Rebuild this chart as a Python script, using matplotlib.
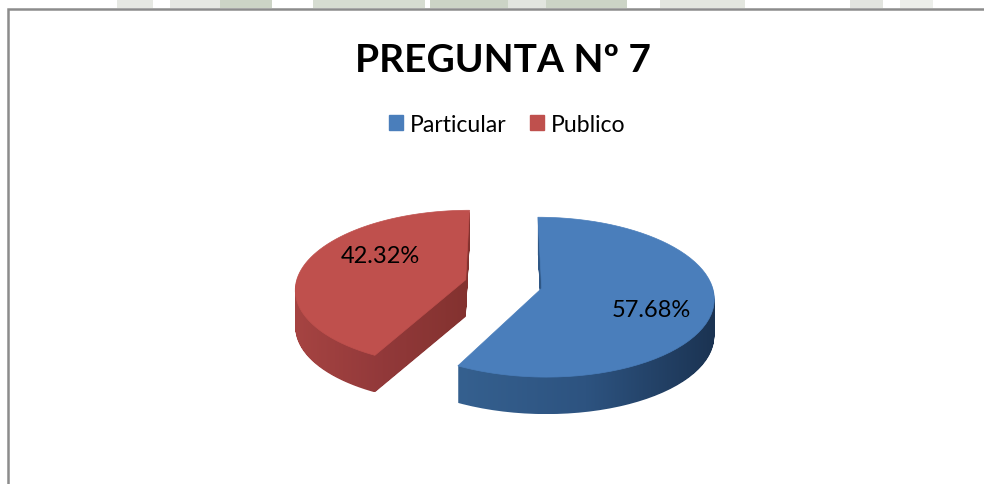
import numpy as np
import matplotlib
matplotlib.use('Agg')
import matplotlib.pyplot as plt
from matplotlib.colors import LinearSegmentedColormap
from matplotlib.patches import Patch, PathPatch, Rectangle
from matplotlib.path import Path

plt.rcParams['font.family'] = ['Lato', 'DejaVu Sans']

# Chart data
title = 'PREGUNTA Nº 7'
categories = ['Particular', 'Publico']
values = [57.68, 42.32]
value_labels = ['57.68%', '42.32%']
top_colors = ['#4a7ebb', '#bf504d']
side_colors = [['#35608f', '#2d5380', '#1b3352'], ['#a64442', '#92393a', '#83322f']]

# Watermark pieces above the chart: left edge, width, colour
mark_left = [117, 170, 220, 313, 430, 508, 546, 660, 850, 900]
mark_width = [36, 50, 52, 112, 78, 38, 81, 85, 33, 33]
mark_color = ['#e6e8e3', '#e6e8e3', '#ccd4c6', '#d6dcd1', '#ccd4c6',
              '#e2e5df', '#ccd4c6', '#e3e6df', '#e2e4df', '#eceeea']

# Layout in pixels
W, H = 984, 485
cx, cy = 503.5, 285
rx, ry = 170, 78
persp = 0.11
depth = 37
explode = 0.23
label_pos = [(651, 311), (380, 257)]

fig = plt.figure(figsize=(W / 100, H / 100), dpi=100)
ax = fig.add_axes([0, 0, 1, 1])
ax.set_xlim(0, W)
ax.set_ylim(H, 0)
ax.axis('off')

# pie on a hidden axes, only used to get the exploded wedge shapes
helper = fig.add_axes([0, 0, 0.1, 0.1])
wedges, _ = helper.pie(values, startangle=90, counterclock=False, explode=[explode, explode])
helper.set_visible(False)


def project(wedge):
    # flatten the wedge outline, then tilt it with a simple perspective
    p = wedge.get_path()
    xy = Path(p.vertices * 300, p.codes).to_polygons(closed_only=True)[0] / 300
    w = 1 + persp * xy[:, 1]
    return np.column_stack([cx + rx * xy[:, 0] / w, cy - ry * xy[:, 1] / w])


# faint watermark behind the chart, top edge only
for left, width, color in zip(mark_left, mark_width, mark_color):
    ax.add_patch(Rectangle((left, 0), width, 9, color=color, lw=0))

# chart area border, open at bottom and right
ax.plot([7.5, 7.5, W], [H, 9.5, 9.5], color='#8c8c8c', lw=1.8, solid_joinstyle='miter')

for i, wedge in enumerate(wedges):
    top = project(wedge)
    # side: stack of shifted outlines, filled with a gradient across x
    stack = [Path(top + [0, d]) for d in np.arange(1, depth + 1)]
    side = PathPatch(Path.make_compound_path(*stack), transform=ax.transData, lw=0, fc='none')
    ax.add_patch(side)
    cmap = LinearSegmentedColormap.from_list('side', side_colors[i])
    x0, x1 = top[:, 0].min(), top[:, 0].max()
    y0, y1 = top[:, 1].min(), top[:, 1].max() + depth
    im = ax.imshow(np.linspace(0, 1, 256)[None, :], cmap=cmap, extent=[x0, x1, y1, y0], aspect='auto', zorder=2)
    im.set_clip_path(side)
    ax.add_patch(PathPatch(Path(top), fc=top_colors[i], ec=top_colors[i], lw=0.5, zorder=3))
    ax.text(label_pos[i][0], label_pos[i][1], value_labels[i], ha='center', va='center',
            fontsize=17, color='black', zorder=4)

ax.set_xlim(0, W)
ax.set_ylim(H, 0)

ax.text(503, 60, title, ha='center', va='center', fontsize=28, fontweight='bold', color='black')

handles = [Patch(color=c) for c in top_colors]
ax.legend(handles, categories, loc='center', bbox_to_anchor=(507.5 / W, 1 - 125 / H), ncol=2, frameon=False,
          fontsize=16.6, handlelength=0.6, handleheight=0.6, handletextpad=0.32, columnspacing=1.0)

fig.savefig('out.png', dpi=100)
